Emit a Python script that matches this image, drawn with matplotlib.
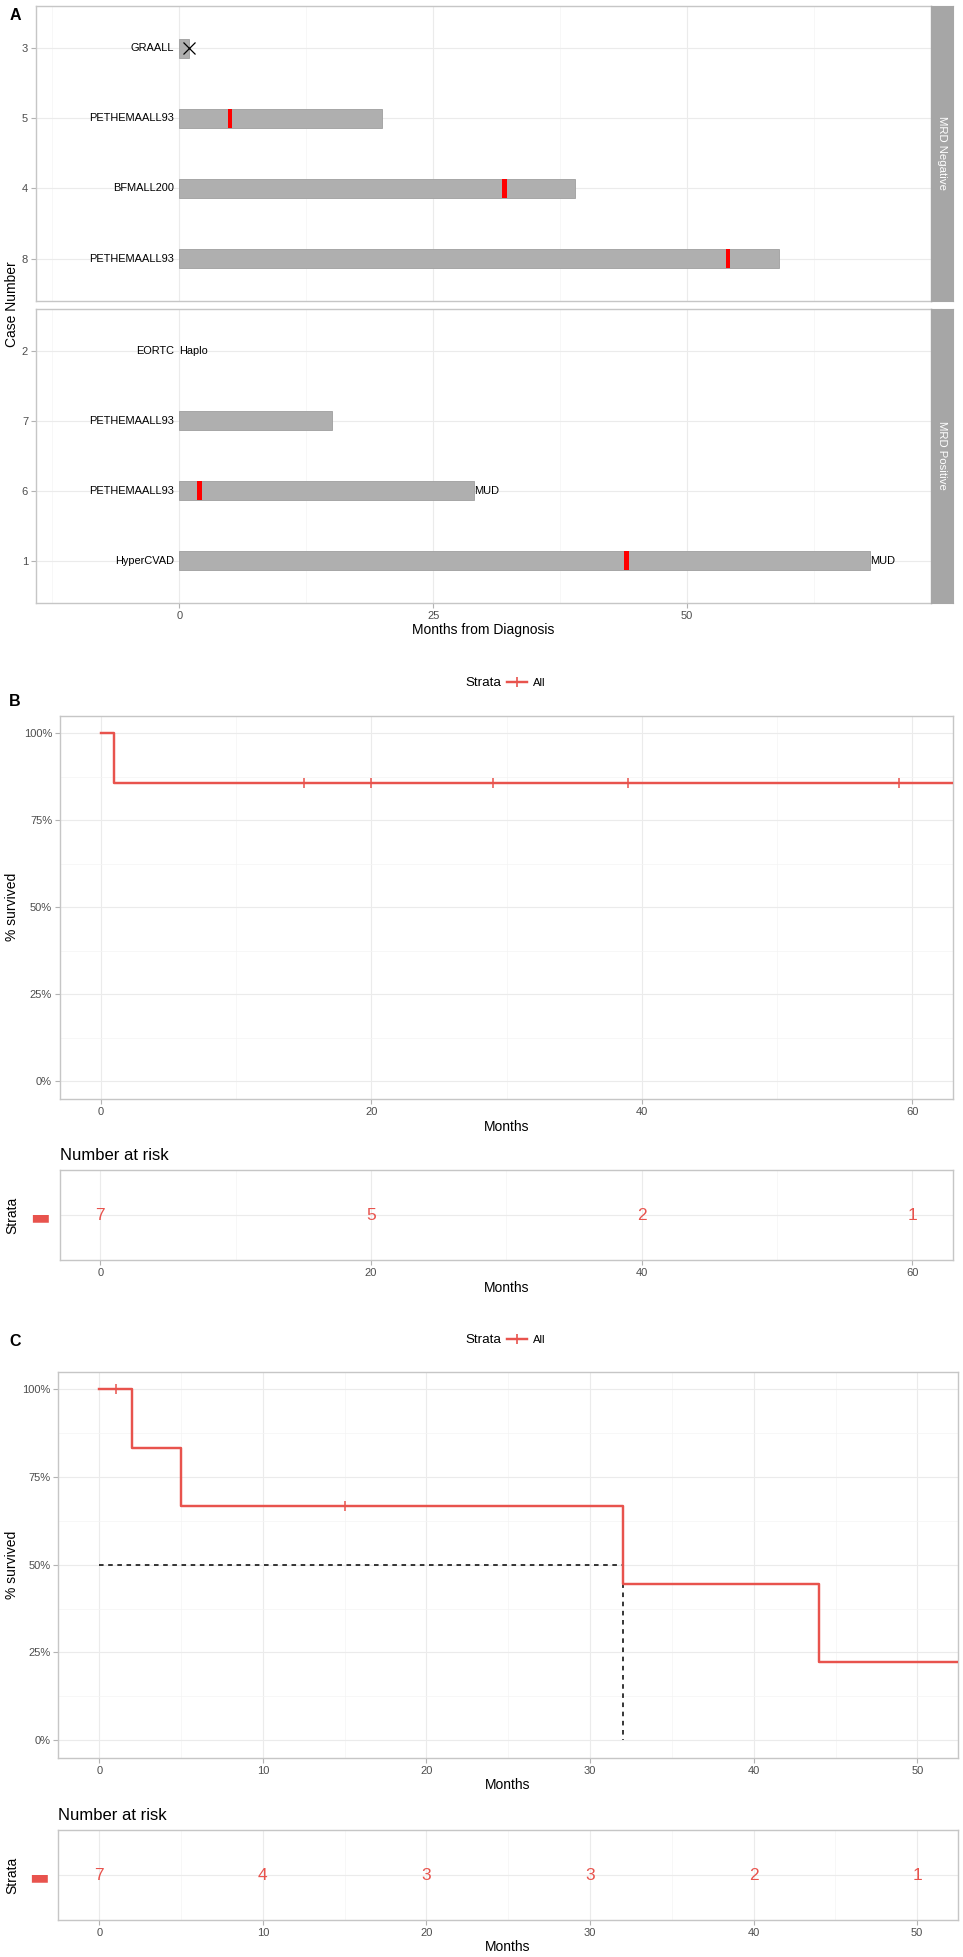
import numpy as np
import matplotlib
matplotlib.use("Agg")
import matplotlib.pyplot as plt
from matplotlib.lines import Line2D
from matplotlib.ticker import FuncFormatter, MultipleLocator

plt.rcParams['font.family'] = ['Liberation Sans', 'DejaVu Sans']

W, H = 963, 1957

# ---------------- data ----------------
neg_cases = ["3", "5", "4", "8"]
neg_regimen = ["GRAALL", "PETHEMAALL93", "BFMALL200", "PETHEMAALL93"]
neg_followup = [1, 20, 39, 59]
neg_relapse = [np.nan, 5, 32, 54]
neg_death = [1, np.nan, np.nan, np.nan]
neg_transplant = ["", "", "", ""]

pos_cases = ["2", "7", "6", "1"]
pos_regimen = ["EORTC", "PETHEMAALL93", "PETHEMAALL93", "HyperCVAD"]
pos_followup = [0, 15, 29, 68]
pos_relapse = [np.nan, np.nan, 2, 44]
pos_death = [np.nan, np.nan, np.nan, np.nan]
pos_transplant = ["Haplo", "", "MUD", "MUD"]

facet_labels = ["MRD Negative", "MRD Positive"]

os_times = [0, 1, 68]
os_surv = [1.0, 0.857, 0.857]
os_censor_times = [15, 20, 29, 39, 59]
os_censor_surv = [0.857, 0.857, 0.857, 0.857, 0.857]
os_risk_times = [0, 20, 40, 60]
os_risk_n = [7, 5, 2, 1]

rfs_times = [0, 2, 5, 32, 44, 59]
rfs_surv = [1.0, 0.833, 0.667, 0.444, 0.222, 0.222]
rfs_censor_times = [1, 15]
rfs_censor_surv = [1.0, 0.667]
rfs_median = 32
rfs_risk_times = [0, 10, 20, 30, 40, 50]
rfs_risk_n = [7, 4, 3, 3, 2, 1]

# ---------------- style ----------------
RED = "#E8534D"
BORDER = "#c6c6c6"
GRID = "#ebebeb"
GRIDMIN = "#f4f4f4"
TICK = "#b3b3b3"
LAB = "#4d4d4d"
BARC = "#afafaf"
BARE = "#9f9f9f"
STRIP = "#a6a6a6"

fig = plt.figure(figsize=(W / 100, H / 100), dpi=100)
fig.patch.set_facecolor("white")


def add_ax(l, t, r, b):
    return fig.add_axes([l / W, 1 - b / H, (r - l) / W, (b - t) / H])


def ftext(x, y, s, **kw):
    return fig.text(x / W, 1 - y / H, s, **kw)


def style(ax):
    ax.set_facecolor("white")
    for s in ax.spines.values():
        s.set_color(BORDER)
        s.set_linewidth(1.0)
    ax.tick_params(which="major", length=3.5, width=0.8, color=TICK,
                   labelsize=8, labelcolor=LAB, pad=2.2)
    ax.tick_params(which="minor", length=0)
    ax.grid(which="major", color=GRID, lw=0.8)
    ax.grid(which="minor", color=GRIDMIN, lw=0.5)
    ax.set_axisbelow(True)


# ---------------- Panel A ----------------
facets = [
    (neg_cases, neg_regimen, neg_followup, neg_relapse, neg_death, neg_transplant, (6, 300.7)),
    (pos_cases, pos_regimen, pos_followup, pos_relapse, pos_death, pos_transplant, (309, 602.7)),
]
for i, (cases, reg, fu, rel, dth, tx, (top, bot)) in enumerate(facets):
    ax = add_ax(36, top, 931, bot)
    style(ax)
    y = np.arange(len(cases))
    fu_a = np.array(fu, dtype=float)
    edges = [BARE if w > 0 else "none" for w in fu_a]
    ax.barh(y, fu_a, left=0, height=0.27, color=BARC, edgecolor=edges, linewidth=0.6, zorder=2)
    rel_a = np.array(rel, dtype=float)
    m = ~np.isnan(rel_a)
    ax.barh(y[m], 0.45, left=rel_a[m] - 0.225, height=0.27, color="#ff0000", linewidth=0, zorder=3)
    dth_a = np.array(dth, dtype=float)
    md = ~np.isnan(dth_a)
    ax.plot(dth_a[md], y[md], "x", color="black", ms=9, mew=0.9, zorder=4)
    for yy, r in zip(y, reg):
        ax.text(-0.5, yy, r, ha="right", va="center", fontsize=7.9, color="black", zorder=5)
    for yy, t, f in zip(y, tx, fu_a):
        if t:
            ax.text(f, yy, t, ha="left", va="center", fontsize=7.9, color="black", zorder=5)
    ax.set_xlim(-14.1, 74.0)
    ax.set_ylim(len(cases) - 0.4, -0.6)
    ax.set_yticks(y)
    ax.set_yticklabels(cases)
    ax.xaxis.set_major_locator(MultipleLocator(25))
    ax.xaxis.set_minor_locator(MultipleLocator(12.5))
    ax.grid(which="minor", axis="y", visible=False)
    if i == 0:
        ax.tick_params(axis="x", which="both", labelbottom=False, length=0)
    # strip
    sax = add_ax(931, top, 953, bot)
    sax.set_facecolor(STRIP)
    sax.set_xticks([])
    sax.set_yticks([])
    for s in sax.spines.values():
        s.set_color(STRIP)
    sax.text(0.5, 0.5, facet_labels[i], rotation=-90, ha="center", va="center",
             color="white", fontsize=8.2, transform=sax.transAxes)

ftext(15, 15, "A", fontsize=11.5, fontweight="bold", ha="center", va="center")
ftext(12, 304, "Case Number", rotation=90, fontsize=10, ha="center", va="center")
ftext(483.5, 630, "Months from Diagnosis", fontsize=10, ha="center", va="center")


# ---------------- KM helper ----------------
pct = FuncFormatter(lambda v, _: f"{int(round(v * 100))}%")


def km_panel(box, times, surv, ctimes, csurv, xlim, major, minor, median=None):
    ax = add_ax(*box)
    style(ax)
    ax.step(times, surv, where="post", color=RED, lw=1.75, zorder=3)
    ax.plot(ctimes, csurv, "+", color=RED, ms=6.5, mew=1.1, zorder=4)
    if median is not None:
        ax.plot([0, median], [0.5, 0.5], ls=(0, (3, 3)), color="black", lw=1.1, zorder=2)
        ax.plot([median, median], [0.5, 0], ls=(0, (3, 3)), color="black", lw=1.1, zorder=2)
    ax.set_xlim(*xlim)
    ax.set_ylim(-0.05, 1.05)
    ax.xaxis.set_major_locator(MultipleLocator(major))
    ax.xaxis.set_minor_locator(MultipleLocator(minor))
    ax.yaxis.set_major_locator(MultipleLocator(0.25))
    ax.yaxis.set_minor_locator(MultipleLocator(0.125))
    ax.yaxis.set_major_formatter(pct)
    return ax


def risk_panel(box, rtimes, rn, xlim, major, minor):
    ax = add_ax(*box)
    style(ax)
    for t, n in zip(rtimes, rn):
        ax.text(t, 0, str(n), ha="center", va="center", color=RED, fontsize=12.5)
    ax.set_xlim(*xlim)
    ax.set_ylim(-1, 1)
    ax.xaxis.set_major_locator(MultipleLocator(major))
    ax.xaxis.set_minor_locator(MultipleLocator(minor))
    ax.set_yticks([0])
    ax.set_yticklabels(["\u25ac"], fontsize=15, color=RED, family=["DejaVu Sans"])
    ax.tick_params(axis="y", length=0, pad=7)
    ax.grid(which="minor", axis="y", visible=False)
    return ax


def legend_at(ycen):
    ftext(501, ycen, "Strata", fontsize=9.6, ha="right", va="center")
    h = Line2D([], [], color=RED, lw=1.75, marker="+", ms=7, mew=1.2)
    fig.legend(handles=[h], labels=["All"], loc="center left",
               bbox_to_anchor=(507 / W, 1 - ycen / H), frameon=False, fontsize=8.1,
               handlelength=1.8, handletextpad=0.5, borderpad=0, borderaxespad=0)


# ---------------- Panel B ----------------
legend_at(683)
ftext(15, 701, "B", fontsize=11.5, fontweight="bold", ha="center", va="center")
km_panel((60, 715.7, 953, 1098.7), os_times, os_surv, os_censor_times, os_censor_surv,
         (-3, 63), 20, 10)
ftext(12.5, 907, "% survived", rotation=90, fontsize=10, ha="center", va="center")
ftext(506.5, 1127, "Months", fontsize=10, ha="center", va="center")
ftext(60, 1156, "Number at risk", fontsize=12, ha="left", va="center")
risk_panel((59.6, 1170, 953, 1260), os_risk_times, os_risk_n, (-3, 63), 20, 10)
ftext(12, 1215, "Strata", rotation=90, fontsize=10, ha="center", va="center")
ftext(506.5, 1288, "Months", fontsize=10, ha="center", va="center")

# ---------------- Panel C ----------------
legend_at(1340)
ftext(15.5, 1341.7, "C", fontsize=11.5, fontweight="bold", ha="center", va="center")
km_panel((58.3, 1371.7, 958.3, 1757.7), rfs_times, rfs_surv, rfs_censor_times, rfs_censor_surv,
         (-2.5, 52.5), 10, 5, median=rfs_median)
ftext(12.5, 1564.7, "% survived", rotation=90, fontsize=10, ha="center", va="center")
ftext(508, 1785, "Months", fontsize=10, ha="center", va="center")
ftext(58.4, 1815, "Number at risk", fontsize=12, ha="left", va="center")
risk_panel((58.4, 1830, 958, 1920), rfs_risk_times, rfs_risk_n, (-2.5, 52.5), 10, 5)
ftext(12, 1875, "Strata", rotation=90, fontsize=10, ha="center", va="center")
ftext(508, 1946.7, "Months", fontsize=10, ha="center", va="center")

fig.savefig("out.png", dpi=100, facecolor="white")
